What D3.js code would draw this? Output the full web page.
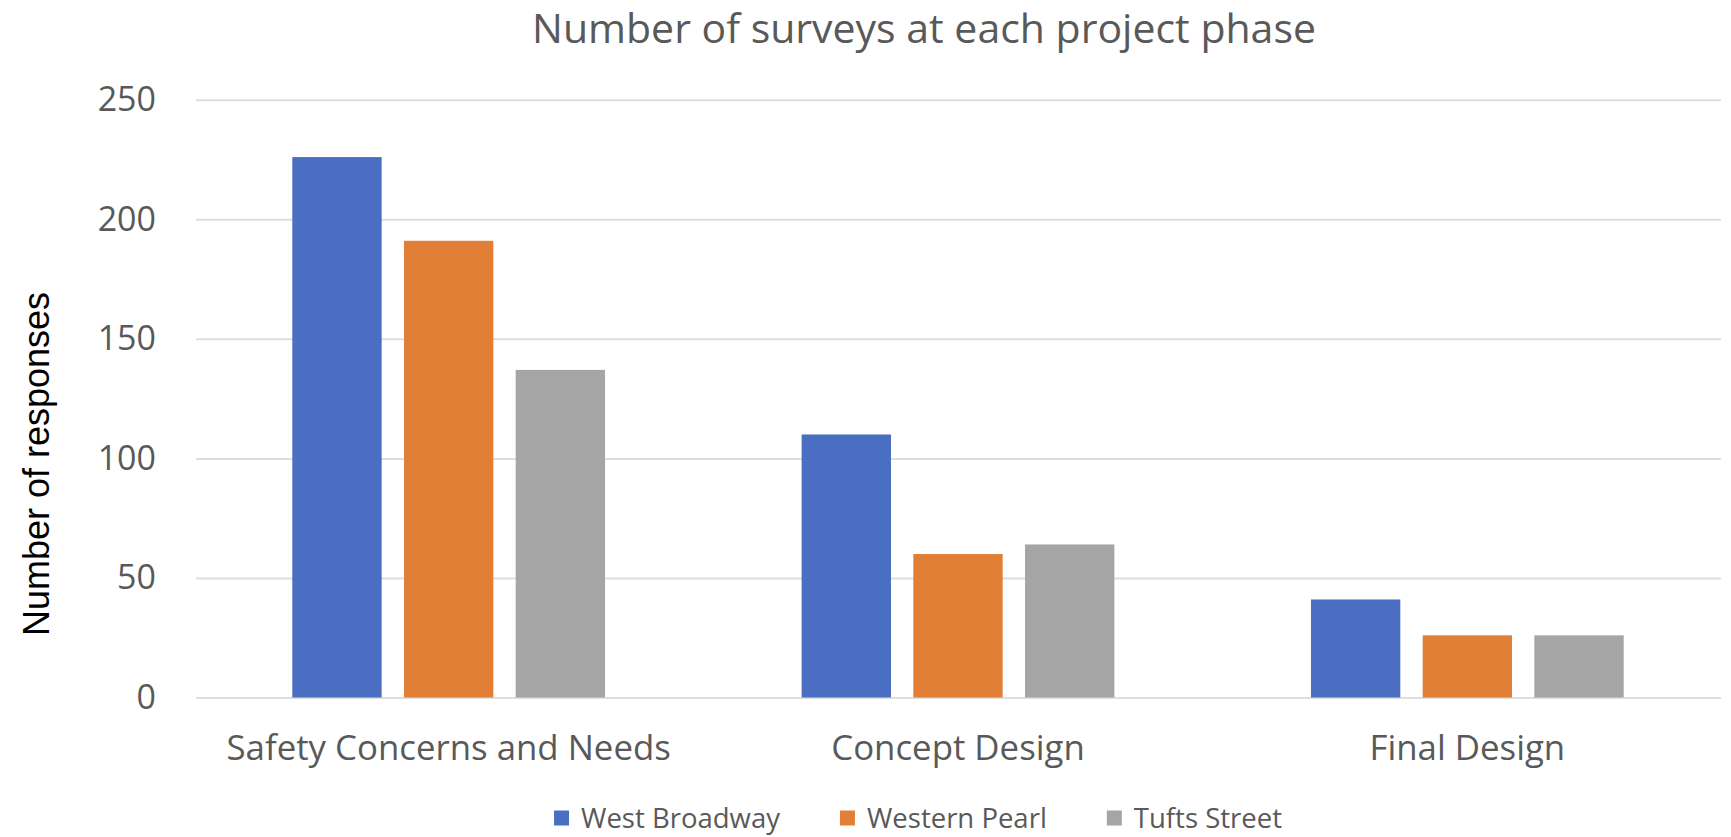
<!DOCTYPE html>
<html>
<head>
<meta charset="utf-8">
<script src="https://cdn.jsdelivr.net/npm/d3@7"></script>
<style>
  html, body { margin: 0; padding: 0; background: #ffffff; }
  svg { display: block; }
</style>
</head>
<body>
<svg id="chart" width="1731" height="837"></svg>
<script>
// ---- data ----
const categories = ["Safety Concerns and Needs", "Concept Design", "Final Design"];
const seriesNames = ["West Broadway", "Western Pearl", "Tufts Street"];
const westBroadway = [226, 110, 41];
const westernPearl = [191, 60, 26];
const tuftsStreet = [137, 64, 26];
const yTicks = [0, 50, 100, 150, 200, 250];
const seriesColors = ["#4a6fc2", "#e27f37", "#a5a5a5"];

const seriesValues = [westBroadway, westernPearl, tuftsStreet];

// ---- layout ----
const W = 1731, H = 837;
const plot = { left: 196, right: 1721, top: 99.7, bottom: 697.5 };
const textFont = "'Open Sans', 'Noto Sans', sans-serif";
const textColor = "#595959";

const svg = d3.select("#chart");

const x0 = d3.scaleBand()
  .domain(categories)
  .range([plot.left - 2, plot.right + 1])
  .paddingInner(0)
  .paddingOuter(0);

const x1 = d3.scaleBand()
  .domain(seriesNames)
  .range([0, x0.bandwidth()])
  .paddingInner(0.2)
  .paddingOuter(0.88);

const y = d3.scaleLinear()
  .domain([0, 250])
  .range([plot.bottom, plot.top]);

// gridlines + y tick labels
const yAxis = d3.axisLeft(y)
  .tickValues(yTicks)
  .tickSize(-(plot.right - plot.left))
  .tickPadding(40)
  .tickFormat(d3.format("d"));

const gy = svg.append("g")
  .attr("transform", `translate(${plot.left},0)`)
  .call(yAxis);
gy.select(".domain").remove();
gy.selectAll(".tick line")
  .attr("stroke", "#dedede")
  .attr("stroke-width", 2);
gy.selectAll(".tick text")
  .attr("fill", textColor)
  .style("font-family", textFont)
  .style("font-size", "34px");

// bars
const groups = svg.append("g")
  .selectAll("g")
  .data(categories)
  .join("g")
  .attr("transform", d => `translate(${x0(d)},0)`);

groups.selectAll("rect")
  .data((d, i) => seriesNames.map((s, j) => ({ series: s, value: seriesValues[j][i], color: seriesColors[j] })))
  .join("rect")
  .attr("x", d => x1(d.series))
  .attr("width", x1.bandwidth())
  .attr("y", d => y(d.value))
  .attr("height", d => y(0) - y(d.value))
  .attr("fill", d => d.color);

// x axis labels
const xAxis = d3.axisBottom(x0).tickSize(0).tickPadding(38);
const gx = svg.append("g")
  .attr("transform", `translate(0,${plot.bottom})`)
  .call(xAxis);
gx.select(".domain").remove();
gx.selectAll(".tick text")
  .attr("fill", textColor)
  .style("font-family", textFont)
  .style("font-size", "34.8px");

// title
svg.append("text")
  .attr("x", 924)
  .attr("y", 43)
  .attr("text-anchor", "middle")
  .attr("fill", textColor)
  .style("font-family", textFont)
  .style("font-size", "41px")
  .text("Number of surveys at each project phase");

// y axis title
svg.append("text")
  .attr("transform", `translate(49,464) rotate(-90)`)
  .attr("text-anchor", "middle")
  .attr("fill", "#000000")
  .style("font-family", "'Liberation Sans', Arial, sans-serif")
  .style("font-size", "36px")
  .text("Number of responses");

// legend
const legend = svg.append("g");
const sq = 15, sqGap = 12, itemGap = 60;
let cx = 0;
seriesNames.forEach((name, i) => {
  const item = legend.append("g").attr("transform", `translate(${cx},0)`);
  item.append("rect")
    .attr("x", 0).attr("y", -sq / 2)
    .attr("width", sq).attr("height", sq)
    .attr("fill", seriesColors[i]);
  const t = item.append("text")
    .attr("x", sq + sqGap)
    .attr("y", 0)
    .attr("dy", "0.35em")
    .attr("fill", textColor)
    .style("font-family", textFont)
    .style("font-size", "27.5px")
    .text(name);
  cx += sq + sqGap + t.node().getComputedTextLength() + itemGap;
});
const legendWidth = cx - itemGap;
legend.attr("transform", `translate(${918 - legendWidth / 2},818)`);
</script>
</body>
</html>
